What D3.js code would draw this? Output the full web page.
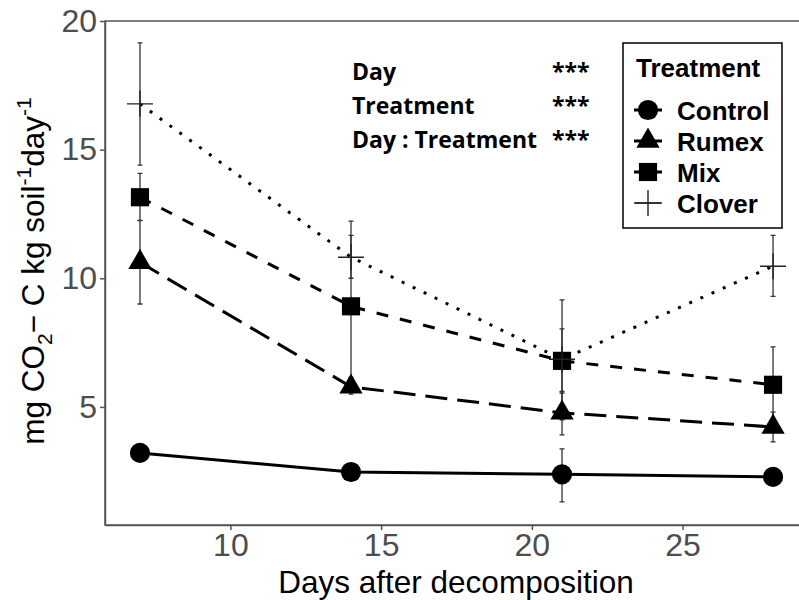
<!DOCTYPE html>
<html>
<head>
<meta charset="utf-8">
<script src="https://cdn.jsdelivr.net/npm/d3@7"></script>
<style>
  body { margin: 0; background: #fff; }
  svg { display: block; }
</style>
</head>
<body>
<div id="graphicContainer"></div>
<script>

var days = [7, 14, 21, 28]
var treatments = ["Control", "Rumex", "Mix", "Clover"]

var controlMean = [3.21, 2.47, 2.38, 2.28]
var controlLow = [3.02, 2.30, 1.31, 2.12]
var controlHigh = [3.40, 2.64, 3.37, 2.44]

var rumexMean = [10.62, 5.78, 4.77, 4.22]
var rumexLow = [9.00, 5.50, 3.91, 3.64]
var rumexHigh = [12.24, 6.10, 5.60, 4.80]

var mixMean = [13.15, 8.91, 6.79, 5.86]
var mixLow = [12.25, 6.15, 5.54, 4.39]
var mixHigh = [14.08, 11.67, 8.03, 7.33]

var cloverMean = [16.78, 10.82, 6.85, 10.47]
var cloverLow = [14.40, 10.00, 4.50, 9.30]
var cloverHigh = [19.15, 12.22, 9.16, 11.67]

var xTicks = [10, 15, 20, 25]
var yTicks = [5, 10, 15, 20]

var statTerms = ["Day", "Treatment", "Day : Treatment"]
var statStars = ["***", "***", "***"]

var series = [
  { name: treatments[0], mean: controlMean, low: controlLow, high: controlHigh, shape: "circle", dash: null },
  { name: treatments[1], mean: rumexMean, low: rumexLow, high: rumexHigh, shape: "triangle", dash: "22 10" },
  { name: treatments[2], mean: mixMean, low: mixLow, high: mixHigh, shape: "square", dash: "12 12" },
  { name: treatments[3], mean: cloverMean, low: cloverLow, high: cloverHigh, shape: "plus", dash: "3 9.2" }
]

var width = 799
var height = 600
var margin = { top: 21, right: -6, bottom: 75, left: 105 }

var svg = d3.select("#graphicContainer").append("svg")
  .attr("width", width)
  .attr("height", height)

var x = d3.scaleLinear().domain([5.84, 29.06]).range([margin.left, width - margin.right])
var y = d3.scaleLinear().domain([0.41, 20]).range([height - margin.bottom, margin.top])

var axisColor = "#555"
var labelColor = "#4d4d4d"

// panel frame (right side falls outside the crop)
svg.append("rect")
  .attr("x", x.range()[0])
  .attr("y", y.range()[1])
  .attr("width", x.range()[1] - x.range()[0])
  .attr("height", y.range()[0] - y.range()[1])
  .attr("fill", "none")
  .attr("stroke", axisColor)
  .attr("stroke-width", 1.5)

var xAxis = d3.axisBottom(x).tickValues(xTicks).tickSize(5).tickSizeOuter(0).tickPadding(3)
var yAxis = d3.axisLeft(y).tickValues(yTicks).tickSize(5).tickSizeOuter(0).tickPadding(3)

var gx = svg.append("g").attr("transform", "translate(0," + y.range()[0] + ")").call(xAxis)
var gy = svg.append("g").attr("transform", "translate(" + x.range()[0] + ",0)").call(yAxis)

;[gx, gy].forEach(function(g) {
  g.select(".domain").attr("stroke", axisColor).attr("stroke-width", 1.5)
  g.selectAll(".tick line").attr("stroke", axisColor).attr("stroke-width", 1.5)
  g.selectAll(".tick text")
    .attr("fill", labelColor)
    .style("font-family", "'Liberation Sans', Arial, sans-serif")
    .style("font-size", "32px")
})

var features = svg.append("g")

var lineGen = d3.line()
  .x((d) => x(d.day))
  .y((d) => y(d.value))

function points(s) {
  return days.map((d, i) => ({ day: d, value: s.mean[i], low: s.low[i], high: s.high[i] }))
}

// lines
series.forEach(function(s) {
  features.append("path")
    .datum(points(s))
    .attr("d", lineGen)
    .attr("fill", "none")
    .attr("stroke", "#000")
    .attr("stroke-width", 3)
    .attr("stroke-dasharray", s.dash)
})

function drawShape(g, shape, cx, cy) {
  if (shape === "plus") {
    g.append("path")
      .attr("d", "M" + (cx - 13) + "," + cy + "H" + (cx + 13) + "M" + cx + "," + (cy - 13) + "V" + (cy + 13))
      .attr("stroke", "#222")
      .attr("stroke-width", 1.4)
      .attr("fill", "none")
    return
  }
  var type = { circle: d3.symbolCircle, triangle: d3.symbolTriangle, square: d3.symbolSquare }[shape]
  var size = { circle: 320, triangle: 235, square: 330 }[shape]
  g.append("path")
    .attr("d", d3.symbol().type(type).size(size)())
    .attr("transform", "translate(" + cx + "," + cy + ")")
    .attr("fill", "#000")
}

// error bars
series.forEach(function(s) {
  var bars = features.append("g")
    .attr("stroke", "#333")
    .attr("stroke-width", 1.3)
    .attr("fill", "none")
  points(s).forEach(function(p) {
    var cx = x(p.day)
    bars.append("path")
      .attr("d", "M" + cx + "," + y(p.low) + "V" + y(p.high) +
        "M" + (cx - 2.5) + "," + y(p.low) + "H" + (cx + 2.5) +
        "M" + (cx - 2.5) + "," + y(p.high) + "H" + (cx + 2.5))
  })
})

// points
series.forEach(function(s) {
  points(s).forEach(function(p) {
    drawShape(features, s.shape, x(p.day), y(p.value))
  })
})

// statistics annotation
var stats = svg.append("g")
  .style("font-family", "'Open Sans', sans-serif")
  .style("font-weight", "700")
  .style("font-size", "23px")
  .attr("fill", "#000")

statTerms.forEach(function(t, i) {
  stats.append("text").attr("x", 352).attr("y", 80 + i * 34).text(t)
  stats.append("text").attr("x", 552).attr("y", 80 + i * 34).text(statStars[i])
})

// legend
var legend = svg.append("g")
legend.append("rect")
  .attr("x", 623).attr("y", 43)
  .attr("width", 159).attr("height", 185)
  .attr("fill", "#fff")
  .attr("stroke", "#000")
  .attr("stroke-width", 1.5)

legend.append("text")
  .attr("x", 636).attr("y", 77)
  .style("font-family", "'Liberation Sans', Arial, sans-serif")
  .style("font-weight", "700")
  .style("font-size", "26px")
  .text("Treatment")

series.forEach(function(s, i) {
  var cy = 110 + i * 31
  legend.append("line")
    .attr("x1", 634).attr("x2", 662)
    .attr("y1", cy).attr("y2", cy)
    .attr("stroke", "#000")
    .attr("stroke-width", s.shape === "plus" ? 1.2 : 3)
  drawShape(legend, s.shape, 648, cy)
  legend.append("text")
    .attr("x", 677).attr("y", cy + 9.5)
    .style("font-family", "'Liberation Sans', Arial, sans-serif")
    .style("font-weight", "700")
    .style("font-size", "26px")
    .text(s.name)
})

// axis titles
svg.append("text")
  .attr("x", 456).attr("y", 593)
  .attr("text-anchor", "middle")
  .style("font-family", "'Liberation Sans', Arial, sans-serif")
  .style("font-size", "31.5px")
  .text("Days after decomposition")

var yTitle = svg.append("text")
  .attr("transform", "translate(44,271) rotate(-90)")
  .attr("text-anchor", "middle")
  .style("font-family", "'Liberation Sans', Arial, sans-serif")
  .style("font-size", "31.5px")

yTitle.append("tspan").text("mg CO")
yTitle.append("tspan").attr("dy", 8).style("font-size", "21px").text("2")
yTitle.append("tspan").attr("dy", -8).text("\u2212 C kg soil")
yTitle.append("tspan").attr("dy", -13).style("font-size", "21px").text("-1")
yTitle.append("tspan").attr("dy", 13).text("day")
yTitle.append("tspan").attr("dy", -13).style("font-size", "21px").text("-1")

</script>
</body>
</html>
